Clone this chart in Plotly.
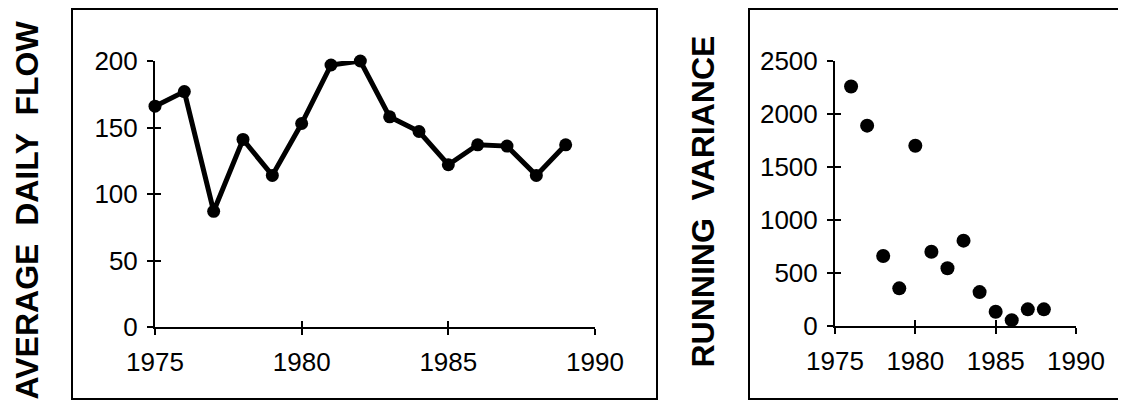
import plotly.graph_objects as go

# ---- data ----
flow_years = list(range(1975, 1990))
flow_values = [166, 177, 87, 141, 114, 153, 197, 200, 158, 147, 122, 137, 136, 114, 137]

var_years = list(range(1976, 1989))
var_values = [2260, 1890, 660, 355, 1700, 700, 545, 805, 320, 135, 55, 157, 157]

x_ticks = [1975, 1980, 1985, 1990]
flow_ticks = [0, 50, 100, 150, 200]
var_ticks = [0, 500, 1000, 1500, 2000, 2500]

left_title = "AVERAGE  DAILY  FLOW"
right_title = "RUNNING  VARIANCE"

# page body has an 8px default margin; figure sized to fit the window
OFF = 8
W, H = 1126 - OFF, 402 - OFF
FONT = "Liberation Sans, Arial, Helvetica, sans-serif"


def fx(px):  # screen px -> paper x
    return (px - OFF) / W


def fy(py):  # screen px (from top) -> paper y
    return (H - (py - OFF)) / H


fig = go.Figure()

fig.add_trace(go.Scatter(
    x=flow_years, y=flow_values, mode="lines+markers",
    line=dict(color="black", width=5),
    marker=dict(color="black", size=13),
    xaxis="x", yaxis="y", cliponaxis=False, showlegend=False,
))
fig.add_trace(go.Scatter(
    x=var_years, y=var_values, mode="markers",
    marker=dict(color="black", size=14),
    xaxis="x2", yaxis="y2", cliponaxis=False, showlegend=False,
))
# empty traces to host overlay axes (inner half of crossing ticks)
fig.add_trace(go.Scatter(x=[], y=[], xaxis="x3", yaxis="y3", showlegend=False))
fig.add_trace(go.Scatter(x=[], y=[], xaxis="x4", yaxis="y4", showlegend=False))

tickfont = dict(family=FONT, size=26, color="black")
base_axis = dict(
    showgrid=False, zeroline=False, showline=True, linecolor="black", linewidth=2,
    ticks="outside", ticklen=6, tickwidth=2, tickcolor="black", tickfont=tickfont,
    fixedrange=True, automargin=False,
)
inner_axis = dict(
    showline=False, showgrid=False, zeroline=False, ticks="inside", ticklen=6,
    tickwidth=2, tickcolor="black", showticklabels=False, fixedrange=True,
    automargin=False,
)

ldx = [fx(155), fx(595)]
ldy = [fy(327), fy(61)]
rdx = [fx(835), fx(1076)]
rdy = [fy(326), fy(61)]

fig.update_layout(
    template="none",
    width=W, height=H,
    margin=dict(l=0, r=0, t=0, b=0, pad=0, autoexpand=False),
    paper_bgcolor="white", plot_bgcolor="white",
    xaxis=dict(base_axis, domain=ldx, anchor="y", range=[1975, 1990],
               tickvals=x_ticks, ticklabelstandoff=5),
    yaxis=dict(base_axis, domain=ldy, anchor="x", range=[0, 200],
               tickvals=flow_ticks, ticklabelstandoff=4),
    xaxis2=dict(base_axis, domain=rdx, anchor="y2", range=[1975, 1990],
                tickvals=x_ticks, ticklabelstandoff=5),
    yaxis2=dict(base_axis, domain=rdy, anchor="x2", range=[0, 2500],
                tickvals=var_ticks, ticklabelstandoff=4),
    xaxis3=dict(inner_axis, overlaying="x", matches="x", anchor="y", tickvals=x_ticks),
    yaxis3=dict(inner_axis, overlaying="y", matches="y", anchor="x", tickvals=flow_ticks),
    xaxis4=dict(inner_axis, overlaying="x2", matches="x2", anchor="y2", tickvals=x_ticks),
    yaxis4=dict(inner_axis, overlaying="y2", matches="y2", anchor="x2", tickvals=var_ticks),
)

# panel frames
for (x0, x1, y0, y1) in [(72, 657, 9, 399), (749, 1140, 9, 399)]:
    fig.add_shape(type="rect", xref="paper", yref="paper",
                  x0=fx(x0), x1=fx(x1), y0=fy(y1), y1=fy(y0),
                  line=dict(color="black", width=2), fillcolor="rgba(0,0,0,0)",
                  layer="below")

titlefont = dict(family=FONT, size=32, color="black", weight="bold")
fig.add_annotation(text=left_title, xref="paper", yref="paper",
                   x=fx(26.5), y=fy(210), textangle=-90, showarrow=False,
                   font=titlefont, xanchor="center", yanchor="middle")
fig.add_annotation(text=right_title, xref="paper", yref="paper",
                   x=fx(702.5), y=fy(202), textangle=-90, showarrow=False,
                   font=titlefont, xanchor="center", yanchor="middle")

fig.write_html("out.html")
